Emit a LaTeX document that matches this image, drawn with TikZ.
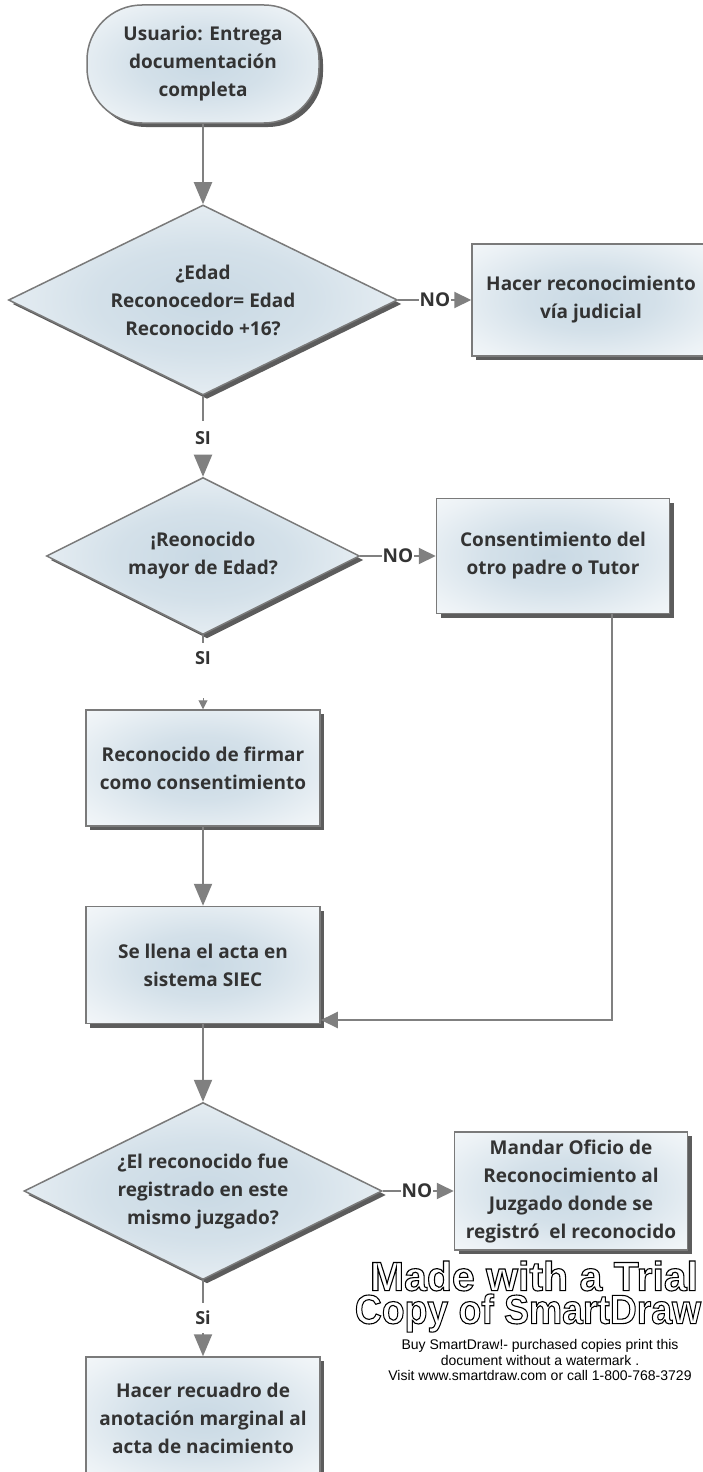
\documentclass[tikz,border=0pt]{standalone}
\usepackage{fontspec}
\setmainfont{Open Sans}
\newfontfamily\wmfont{Liberation Sans}
\usetikzlibrary{shapes.geometric,shadows,arrows.meta}
\definecolor{linegray}{HTML}{808080}
\definecolor{bordergray}{HTML}{7A7A7A}
\definecolor{txtgray}{HTML}{333333}
\definecolor{shadeblue}{HTML}{C9D9E4}
\pgfdeclareradialshading{boxshade}{\pgfpoint{0bp}{0bp}}{color(0bp)=(shadeblue); color(14bp)=(shadeblue!80!white); color(30bp)=(shadeblue!35!white); color(42bp)=(shadeblue!8!white); color(47bp)=(white); color(75bp)=(white)}
\newcommand{\outlinetext}[1]{\special{pdf:literal direct 1 Tr 1.1 w}#1\special{pdf:literal direct 0 Tr}}
\begin{document}
\begin{tikzpicture}[x=1pt,y=-1pt,
  base/.style={draw=bordergray, line width=1.5pt, shading=boxshade, text=txtgray,
    font=\fontsize{19}{28}\selectfont\bfseries, align=center,
    drop shadow={shadow xshift=4pt, shadow yshift=-4pt, fill=black!75, opacity=0.85}},
  procbox/.style={base, rectangle, minimum width=234pt, minimum height=116pt, inner sep=0pt},
  termbox/.style={base, rectangle, rounded corners=55pt, minimum width=232pt, minimum height=118pt, inner sep=0pt},
  decision/.style={base, diamond, inner sep=0pt, aspect=2},
  lbl/.style={font=\fontsize{18}{20}\selectfont\bfseries, text=txtgray, inner sep=1pt},
  nolbl/.style={font=\fontsize{19}{20}\selectfont\bfseries, text=txtgray, inner sep=1pt},
  conn/.style={draw=linegray, line width=2pt},
  arr/.style={conn, -{Triangle[length=22pt,width=18pt]}},
  arrno/.style={conn, -{Triangle[length=17pt,width=16pt]}},
  arrsmall/.style={draw=linegray, line width=1pt, -{Triangle[length=9pt,width=9pt]}},
]
\fill[white] (0,0) rectangle (702,1472);
\useasboundingbox (0,0) rectangle (702,1472);

% nodes
\node[termbox] (start) at (203,64) {Usuario: Entrega\\documentación\\completa};
\node[decision, minimum width=389pt, minimum height=190pt] (d1) at (203,300) {¿Edad\\Reconocedor= Edad\\Reconocido +16?};
\node[procbox, minimum width=238pt, minimum height=112pt] (jud) at (591,300) {Hacer reconocimiento\\vía judicial};
\node[nolbl] (no1) at (435,300) {NO};
\node[lbl, minimum height=34pt] (si1) at (203,438) {SI};

\node[decision, minimum width=313pt, minimum height=157pt] (d2) at (203,556) {¡Reonocido\\mayor de Edad?};
\node[procbox, minimum width=233pt, minimum height=115pt] (cons) at (553,556) {Consentimiento del\\otro padre o Tutor};
\node[nolbl] (no2) at (398,556) {NO};
\node[lbl, minimum height=30pt] (si2) at (203,658) {SI};
\coordinate (c2) at (203,698);

\node[procbox] (firma) at (203,768) {Reconocido de firmar\\como consentimiento};
\node[procbox, minimum height=117pt] (acta) at (203,965) {Se llena el acta en\\sistema SIEC};
\coordinate (fb) at (612,1020);

\node[decision, minimum width=358pt, minimum height=177pt] (d3) at (203,1191) {¿El reconocido fue\\registrado en este\\mismo juzgado?};
\node[procbox, minimum width=233pt, minimum height=118pt] (oficio) at (571,1191) {Mandar Oficio de\\Reconocimiento al\\Juzgado donde se\\registró\ \ el reconocido};
\node[nolbl] (no3) at (417,1191) {NO};
\node[lbl, minimum height=30pt] (si3) at (203,1318) {Si};
\node[procbox, minimum height=122pt] (nac) at (203,1418) {Hacer recuadro de\\anotación marginal al\\acta de nacimiento};

% watermark
\node[font=\wmfont\bfseries\fontsize{41}{41}\selectfont, text=black, inner sep=0pt] (wm1) at (534,1276) {\outlinetext{Made with a Trial}};
\node[font=\wmfont\bfseries\fontsize{41}{41}\selectfont, text=black, inner sep=0pt] (wm2) at (528,1313) {\scalebox{0.91}[1]{\outlinetext{Copy of SmartDraw}}};
\node[font=\wmfont\fontsize{14}{15.5}\selectfont, align=center, text=black, inner sep=0pt] (buy) at (540,1360) {Buy SmartDraw!- purchased copies print this\\document without a watermark .\\Visit www.smartdraw.com or call 1-800-768-3729};

% connectors
\draw[arr] (start) -- (d1);
\draw[conn] (d1) -- (no1);
\draw[arrno] (no1) -- (jud);
\draw[conn] (d1) -- (si1);
\draw[arr] (si1) -- (d2);
\draw[conn] (d2) -- (no2);
\draw[arrno] (no2) -- (cons);
\draw[conn] (d2) -- (si2);
\draw[arrsmall] (c2) -- (firma);
\draw[arr] (firma) -- (acta);
\draw[arrno] (cons.south -| fb) -- (fb) -- (acta.east |- fb);
\draw[arr] (acta) -- (d3);
\draw[conn] (d3) -- (no3);
\draw[arrno] (no3) -- (oficio);
\draw[conn] (d3) -- (si3);
\draw[arr] (si3) -- (nac);
\end{tikzpicture}
\end{document}
